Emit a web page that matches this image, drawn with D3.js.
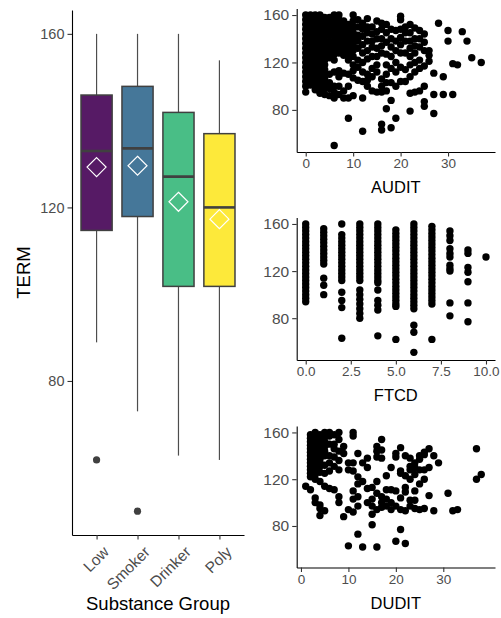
<!DOCTYPE html>
<html><head><meta charset="utf-8">
<script src="https://cdn.jsdelivr.net/npm/d3@7"></script>
<style>
body{margin:0;background:#fff}
svg{display:block}
text{font-family:"Liberation Sans",Arial,Helvetica,sans-serif}
</style>
</head><body>
<svg id="c" width="501" height="618"></svg>
<script>
// ---------- data ----------
const groups = ["Low", "Smoker", "Drinker", "Poly"];
const groupColors = ["#440154", "#31688E", "#35B779", "#FDE725"];
const q1 = [114.7, 117.9, 101.8, 101.8];
const medians = [133.0, 133.6, 127.1, 120.0];
const q3 = [145.9, 147.9, 141.9, 137.0];
const whiskerLow = [88.9, 73.0, 62.8, 61.8];
const whiskerHigh = [160, 160, 160, 153.9];
const means = [129.3, 129.6, 121.3, 117.3];
const outlierGroups = ["Low", "Smoker"];
const outlierValues = [61.8, 50];
const termRange = [50, 160];
const termTicks = [80, 120, 160];

// scatter data: [score, list of TERM values]
const auditCols = [
  [0, [160,156,152,148,144,140,136,132,128,124,120,116,112,108,104,100,95]],
  [1, [160,157,153,149,145,141,137,133,129,125,121,117,113,109,105,101]],
  [2, [160,156,152,148,144,140,136,132,128,124,120,116,112,108,104,100,97]],
  [3, [160,157,153,149,145,141,137,133,129,125,121,117,113,109,105,101,97,94]],
  [4, [158,154,150,146,142,138,134,130,126,122,118,114,110,106,102,98,93]],
  [5, [158,153,148,143,138,133,128,124,110,103,98,92]],
  [6, [160,155,150,146,142,137,132,127,122,112,100,95,90,50]],
  [7, [160,156,151,147,143,138,133,128,113,108,100,93]],
  [8, [155,150,146,141,136,131,126,111,96,90]],
  [9, [152,147,142,137,132,127,122,110,100,90,73]],
  [10, [160,155,150,145,140,135,130,125,118,113,107,92]],
  [11, [156,150,143,138,132,122,116,105]],
  [12, [153,148,142,135,128,120,112,104,90,62]],
  [13, [157,150,145,138,130,123,110,105,100]],
  [14, [150,144,138,133,125,115,108,96]],
  [15, [155,146,140,132,125,118,112,95]],
  [16, [153,148,140,134,128,106,100,95,68,63]],
  [17, [152,145,137,127,118,110,103,96,81]],
  [18, [148,140,133,125,115,103,88,65]],
  [19, [147,138,130,120,112,100,73]],
  [20, [159,156,148,141,135,128,116,104]],
  [21, [150,145,138,128,114,104]],
  [22, [152,145,138,132,125,118,108,94,79]],
  [23, [149,140,134,128,120,112,95]],
  [24, [147,140,133,122,115,96]],
  [25, [144,137,130,117,100,87,83]],
  [26, [130,126,121]],
  [27, [111,93,77]],
  [28, [153]],
  [29, [108,93]],
  [30, [147,138]],
  [31, [119,93]],
  [32, [118]],
  [33, [146]],
  [34, [138]],
  [35, [124]],
  [37, [120]]
];
const ftcdCols = [
  [0, [160,157,154,151,148,145,142,139,136,133,130,127,124,121,118,115,112,109,106,103,100,97,94]],
  [1, [156,153,150,147,144,141,138,135,132,129,126,114,108,100]],
  [2, [160,151,148,145,142,139,136,133,130,127,124,121,118,115,112,102,95,89,63]],
  [3, [160,157,154,151,148,145,142,139,136,133,130,127,124,121,118,115,112,104,100,96,92,88,84,80]],
  [4, [160,157,154,151,148,145,142,139,136,133,130,127,124,121,118,115,112,110,104,95,91,87,65]],
  [5, [155,152,149,146,143,140,137,134,131,128,125,122,119,116,113,110,107,104,101,98,95,92,90,62]],
  [6, [160,157,154,151,148,145,142,139,136,133,130,127,124,121,118,115,112,109,106,103,100,97,94,91,88,74,68,51]],
  [7, [158,155,152,149,146,143,140,137,134,131,128,125,122,119,116,113,110,107,104,101,98,95,92,62]],
  [8, [154,150,146,139,135,132,125,122,120,93,82]],
  [9, [138,135,123,119,111,93,77]],
  [10, [132]]
];
const duditCols = [
  [1, [114]],
  [2, [158,155,152,149,146,143,140,137,134,131,128,125,122,111]],
  [3, [160,157,154,151,148,145,142,139,136,133,130,127,124,120,104,100]],
  [4, [158,155,152,149,146,143,140,137,134,131,126,118,98,95,89]],
  [5, [160,156,152,148,144,140,132,125,114,93]],
  [6, [160,157,150,140,134,127,112]],
  [7, [158,150,146,139,131,111]],
  [8, [160,154,144,136,128,105,100]],
  [9, [148,142,88]],
  [10, [134,128,94,63]],
  [11, [160,157,134,127,110,103,92]],
  [12, [142,122,116,105,97,73]],
  [13, [134,118,62]],
  [14, [138,130,112,100]],
  [15, [113,103,97,90,81]],
  [16, [148,144,139,118,108,94,62]],
  [17, [154,145,138,105,100,96]],
  [18, [123,111,103,97]],
  [19, [130,111,100,94]],
  [20, [142,139,110,97,67]],
  [21, [147,127,125,104,94,77]],
  [22, [140,123,113,109,93,65]],
  [23, [138,131,128,120,102,97]],
  [24, [134,130,124,110,102,95]],
  [25, [140,137,128,116,94]],
  [26, [143,141,128,120,95]],
  [27, [146,130,106]],
  [28, [140,93]],
  [29, [134]],
  [31, [108]],
  [32, [93]],
  [33, [94]],
  [37, [146,120]],
  [38, [124]]
];
const auditTicks = [0, 10, 20, 30];
const ftcdTicks = [0, 2.5, 5, 7.5, 10];
const duditTicks = [0, 10, 20, 30];

// ---------- drawing ----------
const svg = d3.select("#c");
const expand = ([a, b], f = 0.05) => { const d = (b - a) * f; return [a - d, b + d]; };
const AXIS_TXT = "#4d4d4d";

function styleAxis(g, size) {
  g.select(".domain").attr("stroke", "#000").attr("stroke-width", 1.1);
  g.selectAll(".tick line").attr("stroke", "#333").attr("stroke-width", 1.1);
  g.selectAll(".tick text").attr("fill", AXIS_TXT).attr("font-size", size)
    .attr("font-family", "Liberation Sans, Arial, sans-serif");
}

// ----- left: boxplot -----
const yL = d3.scaleLinear().domain(expand(termRange)).range([535, 10]);
const xL = d3.scalePoint().domain(groups).range([72, 244]).padding(0.6);
const bw = xL.step() * 0.76;

const gL = svg.append("g");
// whiskers
groups.forEach((g, i) => {
  gL.append("line").attr("x1", xL(g)).attr("x2", xL(g))
    .attr("y1", yL(whiskerHigh[i])).attr("y2", yL(q3[i]))
    .attr("stroke", "#4d4d4d").attr("stroke-width", 1.2);
  gL.append("line").attr("x1", xL(g)).attr("x2", xL(g))
    .attr("y1", yL(q1[i])).attr("y2", yL(whiskerLow[i]))
    .attr("stroke", "#4d4d4d").attr("stroke-width", 1.2);
});
// boxes
gL.selectAll("rect.box").data(groups).join("rect").attr("class", "box")
  .attr("x", g => xL(g) - bw / 2).attr("width", bw)
  .attr("y", (g, i) => yL(q3[i])).attr("height", (g, i) => yL(q1[i]) - yL(q3[i]))
  .attr("fill", (g, i) => groupColors[i]).attr("fill-opacity", 0.9)
  .attr("stroke", "#404040").attr("stroke-width", 1.5);
// medians
gL.selectAll("line.med").data(groups).join("line").attr("class", "med")
  .attr("x1", g => xL(g) - bw / 2).attr("x2", g => xL(g) + bw / 2)
  .attr("y1", (g, i) => yL(medians[i])).attr("y2", (g, i) => yL(medians[i]))
  .attr("stroke", "#404040").attr("stroke-width", 2.6);
// outliers
gL.selectAll("circle.out").data(outlierGroups).join("circle").attr("class", "out")
  .attr("cx", g => xL(g)).attr("cy", (g, i) => yL(outlierValues[i])).attr("r", 3.6)
  .attr("fill", "#404040");
// means (diamonds)
gL.selectAll("path.mean").data(groups).join("path").attr("class", "mean")
  .attr("d", (g, i) => {
    const cx = xL(g), cy = yL(means[i]), r = 9.5;
    return `M${cx},${cy - r}L${cx + r},${cy}L${cx},${cy + r}L${cx - r},${cy}Z`;
  })
  .attr("fill", "none").attr("stroke", "#fff").attr("stroke-width", 1.2);

// axes
const ayL = svg.append("g").attr("transform", "translate(72,0)")
  .call(d3.axisLeft(yL).tickValues(termTicks).tickSize(4.5).tickSizeOuter(0).tickPadding(3));
styleAxis(ayL, 14.5);
const axL = svg.append("g").attr("transform", "translate(0,535)")
  .call(d3.axisBottom(xL).tickSize(4.5).tickSizeOuter(0));
styleAxis(axL, 15.5);
axL.selectAll(".tick text")
  .attr("text-anchor", "end").attr("y", 0).attr("dy", "0.72em")
  .attr("transform", "translate(5,10) rotate(-45)");

svg.append("text").attr("transform", "translate(30,272.5) rotate(-90)")
  .attr("text-anchor", "middle").attr("font-size", 18.5).attr("fill", "#000").text("TERM");
svg.append("text").attr("x", 158).attr("y", 610)
  .attr("text-anchor", "middle").attr("font-size", 18.5).attr("fill", "#000").text("Substance Group");

// ----- right: scatter panels -----
function scatter(cols, xDom, xTicks, fmt, top, bottom, title) {
  const pts = cols.flatMap(([s, ys]) => ys.map(t => [s, t]));
  const x = d3.scaleLinear().domain(expand(xDom)).range([296.7, 495]);
  const y = d3.scaleLinear().domain(expand(termRange)).range([bottom, top]);
  const g = svg.append("g");
  g.selectAll("circle").data(pts).join("circle")
    .attr("cx", d => x(d[0])).attr("cy", d => y(d[1])).attr("r", 3.7).attr("fill", "#000");
  const ay = svg.append("g").attr("transform", "translate(296.7,0)")
    .call(d3.axisLeft(y).tickValues(termTicks).tickSize(4.5).tickSizeOuter(0).tickPadding(3));
  styleAxis(ay, 15.5);
  const ax = svg.append("g").attr("transform", `translate(0,${bottom})`)
    .call(d3.axisBottom(x).tickValues(xTicks).tickFormat(d3.format(fmt)).tickSize(4.5).tickSizeOuter(0).tickPadding(2));
  styleAxis(ax, 13.5);
  svg.append("text").attr("x", 395.8).attr("y", bottom + 41)
    .attr("text-anchor", "middle").attr("font-size", 16.5).attr("fill", "#000").text(title);
}
scatter(auditCols, [0, 38], auditTicks, "d", 8.5, 152, "AUDIT");
scatter(ftcdCols, [0, 10], ftcdTicks, ".1f", 217.5, 360, "FTCD");
scatter(duditCols, [1, 39], duditTicks, "d", 426, 567.5, "DUDIT");
</script>
</body></html>
